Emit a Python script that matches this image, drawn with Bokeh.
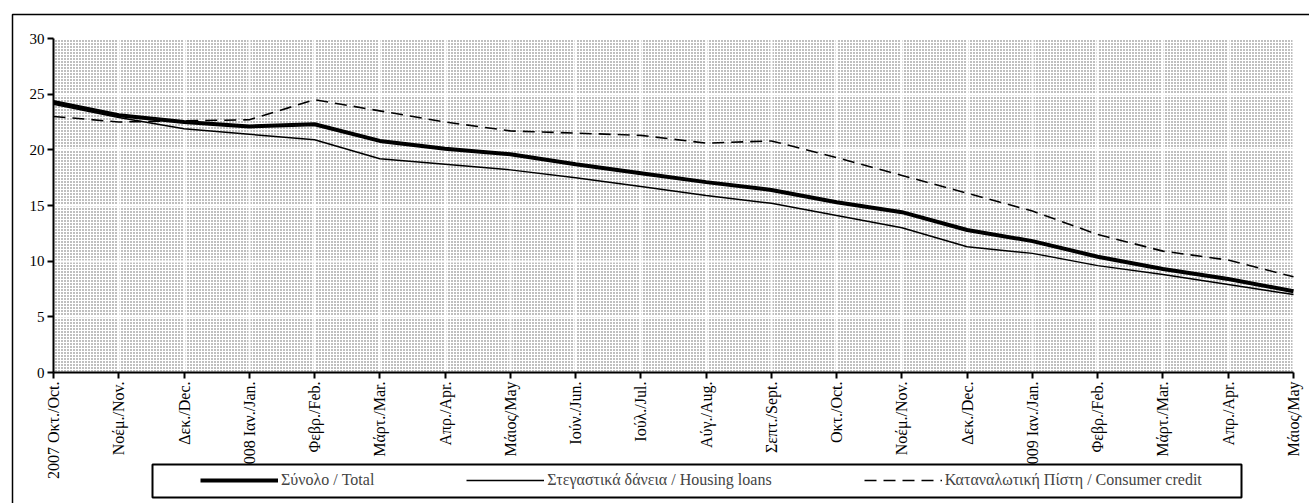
import math
from bokeh.plotting import figure
from bokeh.models import (Range1d, FixedTicker, Legend, LegendItem, BoxAnnotation)
from bokeh.embed import file_html
from bokeh.resources import INLINE

categories = ["2007 Οκτ./Oct.", "Νοέμ./Nov.", "Δεκ./Dec.", "2008 Ιαν./Jan.", "Φεβρ./Feb.",
              "Μάρτ./Mar.", "Απρ./Apr.", "Μάιος/May", "Ιούν./Jun.", "Ιούλ./Jul.",
              "Αύγ./Aug.", "Σεπτ./Sept.", "Οκτ./Oct.", "Νοέμ./Nov.", "Δεκ./Dec.",
              "2009 Ιαν./Jan.", "Φεβρ./Feb.", "Μάρτ./Mar.", "Απρ./Apr.", "Μάιος/May"]
total = [24.3, 23.1, 22.5, 22.1, 22.3, 20.8, 20.1, 19.6, 18.7, 17.9,
         17.1, 16.4, 15.3, 14.4, 12.8, 11.8, 10.4, 9.3, 8.4, 7.3]
housing = [24.1, 22.9, 21.9, 21.4, 20.9, 19.2, 18.7, 18.2, 17.5, 16.7,
           15.9, 15.2, 14.1, 13.0, 11.3, 10.7, 9.6, 8.8, 7.9, 7.0]
consumer = [23.0, 22.5, 22.6, 22.7, 24.5, 23.5, 22.5, 21.7, 21.5, 21.3,
            20.6, 20.8, 19.3, 17.7, 16.1, 14.5, 12.4, 10.9, 10.1, 8.6]
y_ticks = [0, 5, 10, 15, 20, 25, 30]
legend_labels = ["Σύνολο / Total", "Στεγαστικά δάνεια / Housing loans",
                 "Καταναλωτική Πίστη / Consumer credit"]

FONT = "Liberation Serif"
W, H = 1309, 503
# layout (pixels): plot area spans these canvas pixels
PX_L, PX_R, PX_T, PX_B = 53, 1293, 38, 372
x = list(range(len(categories)))
x0, x1 = x[0], x[-1]
y0, y1 = y_ticks[0], y_ticks[-1]
sx = (PX_R - PX_L) / (x1 - x0)
sy = (PX_B - PX_T) / (y1 - y0)
def px_x(px):
    return x0 + (px - PX_L) / sx
def px_y(py):
    return y0 + (PX_B - py) / sy

p = figure(width=W, height=H, output_backend="svg", toolbar_location=None,
           x_range=Range1d(px_x(0), px_x(W)), y_range=Range1d(px_y(H), px_y(0)),
           min_border=0, min_border_left=0, min_border_right=0,
           min_border_top=0, min_border_bottom=0)
p.outline_line_color = None
p.background_fill_color = "white"
p.border_fill_color = "white"

# dotted plot-area background
bg = p.quad(left=[x0], right=[x1], bottom=[y0], top=[y1],
            fill_color="white", line_color=None,
            hatch_pattern=".", hatch_color="#5e5e5e", hatch_scale=3, hatch_weight=0.9)
bg.level = "image"

p.xgrid.grid_line_color = "white"
p.xgrid.grid_line_width = 2
p.ygrid.grid_line_color = "white"
p.ygrid.grid_line_width = 2

r_total = p.line(x, total, line_color="black", line_width=4)
r_house = p.line(x, housing, line_color="black", line_width=1.5)
r_cons = p.line(x, consumer, line_color="black", line_width=1.6, line_dash="12 7")

# axes fixed inside the frame
p.xaxis.fixed_location = y0
p.yaxis.fixed_location = x0
p.xaxis.bounds = (x0, x1)
p.yaxis.bounds = (y0, y1)
p.xaxis.ticker = FixedTicker(ticks=x)
p.xaxis.major_label_overrides = {i: c for i, c in enumerate(categories)}
p.xaxis.major_label_orientation = math.pi / 2
p.yaxis.ticker = FixedTicker(ticks=y_ticks)
p.xgrid.ticker = FixedTicker(ticks=x)
p.ygrid.ticker = FixedTicker(ticks=y_ticks)
for ax in (p.xaxis[0], p.yaxis[0]):
    ax.axis_line_color = "black"
    ax.axis_line_width = 2
    ax.major_tick_line_color = "black"
    ax.major_tick_line_width = 2
    ax.major_tick_in = 0
    ax.major_tick_out = 6
    ax.minor_tick_line_color = None
    ax.major_label_text_font = FONT
    ax.major_label_text_color = "black"
    ax.major_label_standoff = 3
p.xaxis.major_label_text_font_size = "16px"
p.yaxis.major_label_text_font_size = "15px"

# outer frame (only top/left visible in the crop)
outer = BoxAnnotation(left=px_x(12), top=px_y(14), right=px_x(W + 50), bottom=px_y(H + 50),
                      fill_alpha=0, line_color="black", line_alpha=1, line_width=1.5)
p.add_layout(outer)

# legend box
lbox = BoxAnnotation(left=px_x(152), top=px_y(464), right=px_x(1241), bottom=px_y(497),
                     fill_color="white", fill_alpha=1, line_color="black", line_alpha=1,
                     line_width=2)
p.add_layout(lbox)

legend = Legend(items=[LegendItem(label=legend_labels[0], renderers=[r_total]),
                       LegendItem(label=legend_labels[1], renderers=[r_house]),
                       LegendItem(label=legend_labels[2], renderers=[r_cons])],
                location=(200, 14), orientation="horizontal", padding=0, margin=0,
                spacing=92, glyph_width=78, glyph_height=16, label_standoff=3,
                border_line_color=None, background_fill_alpha=0,
                label_text_font=FONT, label_text_font_size="16px")
p.add_layout(legend)

open("out.html", "w").write(file_html(p, INLINE))
